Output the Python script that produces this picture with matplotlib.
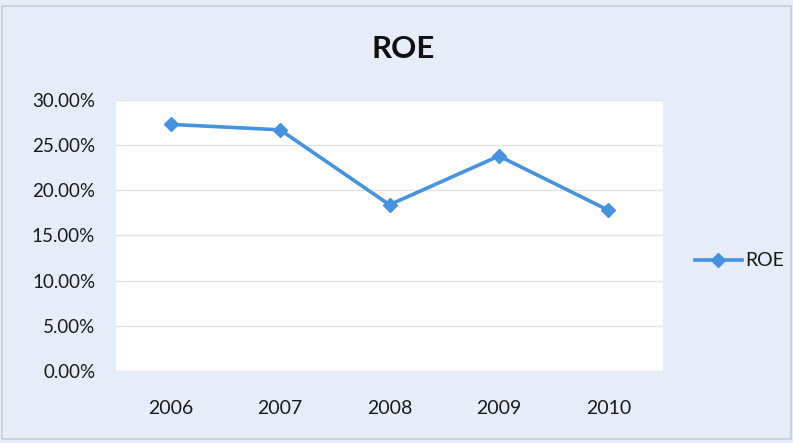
import matplotlib
matplotlib.use("Agg")
import matplotlib.pyplot as plt
from matplotlib.ticker import FuncFormatter, MultipleLocator
from matplotlib.lines import Line2D
from matplotlib.patches import Rectangle

years = ["2006", "2007", "2008", "2009", "2010"]
roe = [0.273, 0.267, 0.184, 0.238, 0.178]
series_name = "ROE"
title = "ROE"

plt.rcParams['font.family'] = ['Lato', 'DejaVu Sans']

W, H = 793, 443
fig = plt.figure(figsize=(W / 100, H / 100), dpi=100)
bg = "#e6edf8"
fig.patch.set_facecolor(bg)
fig.patches.append(Rectangle((2 / W, 4 / H), 1 - 4 / W, 1 - 10 / H, transform=fig.transFigure,
                             fill=False, edgecolor="#c9ccd2", linewidth=1.2))

left, right, top, bottom = 116, 663, 100, 371
ax = fig.add_axes([left / W, 1 - bottom / H, (right - left) / W, (bottom - top) / H])
ax.set_facecolor("white")

color = "#4593e0"
x = list(range(len(years)))
ax.plot(x, roe, color=color, linewidth=2.6, marker="D", markersize=7.5,
        markeredgecolor=color, markerfacecolor=color)

ax.set_xlim(-0.5, len(years) - 0.5)
ax.set_ylim(0, 0.30)
ax.yaxis.set_major_locator(MultipleLocator(0.05))
ax.yaxis.set_major_formatter(FuncFormatter(lambda v, p: f"{v*100:.2f}%"))
ax.set_xticks(x)
ax.set_xticklabels(years)
ax.grid(axis="y", color="#e3e3e3", linewidth=1)
ax.set_axisbelow(True)
for s in ax.spines.values():
    s.set_visible(False)
ax.tick_params(axis="both", length=0, colors="#1a1a1a")
ax.tick_params(axis="y", pad=15, labelsize=13.5)
ax.tick_params(axis="x", pad=21, labelsize=14)

fig.text(403 / W, 1 - 49 / H, title, ha="center", va="center", fontsize=22.5,
         fontweight="bold", color="#111111")

# legend
fig.add_artist(Line2D([695 / W, 742 / W], [1 - 260 / H, 1 - 260 / H], transform=fig.transFigure,
                      color=color, linewidth=2.6))
fig.add_artist(Line2D([718 / W], [1 - 260 / H], transform=fig.transFigure, color=color,
                      marker="D", markersize=7.5, linestyle="none"))
fig.text(745 / W, 1 - 260 / H, series_name, ha="left", va="center", fontsize=14, color="#1a1a1a")

fig.savefig("out.png", dpi=100, facecolor=bg)
